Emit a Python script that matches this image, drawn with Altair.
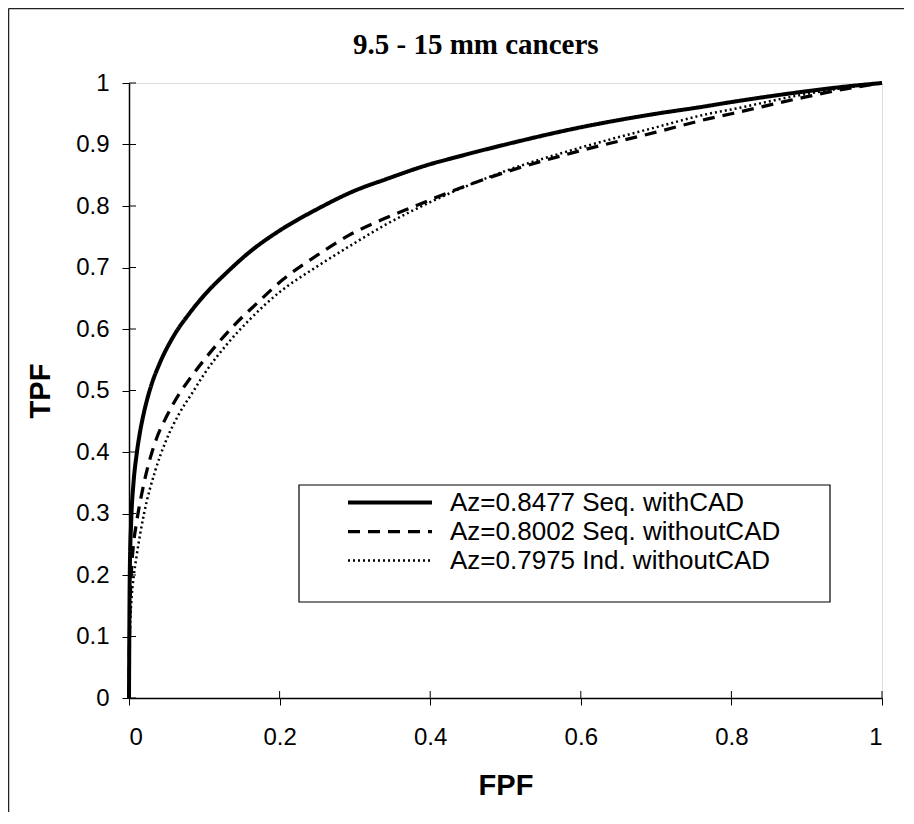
import altair as alt
import pandas as pd

# ---- data ----
title_text = "9.5 - 15 mm cancers"
series_names = ["Az=0.8477 Seq. withCAD", "Az=0.8002 Seq. withoutCAD", "Az=0.7975 Ind. withoutCAD"]

fpf_with = [0, 0.001, 0.003, 0.006, 0.01, 0.015, 0.02, 0.03, 0.04, 0.06, 0.08, 0.1, 0.13, 0.16,
            0.2, 0.25, 0.3, 0.34, 0.4, 0.43, 0.5, 0.6, 0.7, 0.76, 0.8, 0.89, 0.95, 1.0]
tpf_with = [0, 0.2, 0.29, 0.35, 0.395, 0.435, 0.465, 0.51, 0.542, 0.59, 0.625, 0.655, 0.692, 0.725,
            0.76, 0.795, 0.825, 0.843, 0.868, 0.878, 0.9, 0.928, 0.95, 0.961, 0.969, 0.985, 0.994, 1.0]

fpf_seq = [0, 0.001, 0.003, 0.006, 0.01, 0.02, 0.036, 0.05, 0.067, 0.08, 0.1, 0.138, 0.17, 0.204,
           0.25, 0.293, 0.34, 0.38, 0.41, 0.5, 0.6, 0.7, 0.77, 0.8, 0.89, 0.95, 1.0]
tpf_seq = [0, 0.13, 0.2, 0.25, 0.285, 0.35, 0.42, 0.458, 0.495, 0.518, 0.55, 0.604, 0.642, 0.68,
           0.72, 0.753, 0.78, 0.80, 0.815, 0.855, 0.89, 0.92, 0.942, 0.95, 0.975, 0.99, 1.0]

fpf_ind = [0, 0.001, 0.003, 0.006, 0.01, 0.02, 0.035, 0.049, 0.067, 0.085, 0.1, 0.13, 0.16, 0.2,
           0.249, 0.3, 0.337, 0.412, 0.5, 0.6, 0.7, 0.77, 0.8, 0.89, 0.95, 1.0]
tpf_ind = [0, 0.1, 0.155, 0.195, 0.23, 0.3, 0.37, 0.418, 0.463, 0.498, 0.527, 0.575, 0.615, 0.66,
           0.701, 0.74, 0.767, 0.813, 0.857, 0.895, 0.928, 0.95, 0.957, 0.98, 0.992, 1.0]

x_ticks = [0, 0.2, 0.4, 0.6, 0.8, 1.0]
y_ticks = [0, 0.1, 0.2, 0.3, 0.4, 0.5, 0.6, 0.7, 0.8, 0.9, 1.0]

rows = []
for name, xs, ys in [(series_names[0], fpf_with, tpf_with),
                     (series_names[1], fpf_seq, tpf_seq),
                     (series_names[2], fpf_ind, tpf_ind)]:
    for i, (x, y) in enumerate(zip(xs, ys)):
        rows.append({"series": name, "FPF": x, "TPF": y, "i": i})
df = pd.DataFrame(rows)

W, H = 753, 615
SANS = "Liberation Sans"
SERIF = "Liberation Serif"

dash_scale = alt.Scale(domain=series_names, range=[[1, 0], [12, 8], [2, 3]])
width_scale = alt.Scale(domain=series_names, range=[4, 2.5, 1])
xscale = alt.Scale(domain=[0, 1], nice=False, zero=False)
yscale = alt.Scale(domain=[0, 1], nice=False, zero=False)

lines = alt.Chart(df).mark_line(interpolate="monotone", color="black").encode(
    x=alt.X("FPF:Q", scale=xscale,
            axis=alt.Axis(values=x_ticks, format="~g", title="FPF", grid=False,
                          tickSize=7, tickColor="black", tickWidth=1,
                          domainColor="black", domainWidth=1.5,
                          labelFont=SANS, labelFontSize=24, labelColor="black",
                          labelBaseline="alphabetic", labelPadding=39,
                          titleFont=SANS, titleFontSize=29, titleFontWeight="bold",
                          titleColor="black", titleBaseline="alphabetic",
                          titleX=W / 2, titleY=96)),
    y=alt.Y("TPF:Q", scale=yscale,
            axis=alt.Axis(values=y_ticks, format="~g", title="TPF", grid=False,
                          tickSize=7, tickColor="black", tickWidth=1,
                          domainColor="black", domainWidth=1.5,
                          labelFont=SANS, labelFontSize=24, labelColor="black",
                          labelPadding=13,
                          titleFont=SANS, titleFontSize=29, titleFontWeight="bold",
                          titleColor="black", titleAngle=-90, titleAlign="center",
                          titleBaseline="middle", titleX=-89, titleY=H / 2)),
    strokeDash=alt.StrokeDash("series:N", scale=dash_scale, legend=None),
    strokeWidth=alt.StrokeWidth("series:N", scale=width_scale, legend=None),
    order="i:Q",
)

# inner half of the crossing tick marks
xt = pd.DataFrame({"v": x_ticks})
yt = pd.DataFrame({"v": y_ticks})
xtick_in = alt.Chart(xt).mark_rule(color="black", strokeWidth=1).encode(
    x="v:Q", y=alt.value(H - 7), y2=alt.value(H))
ytick_in = alt.Chart(yt).mark_rule(color="black", strokeWidth=1).encode(
    y="v:Q", x=alt.value(0), x2=alt.value(7))

# legend drawn as a boxed key
leg_df = pd.DataFrame({"series": series_names, "row": [0, 1, 2]})
leg_box = alt.Chart(pd.DataFrame({"a": [0]})).mark_rect(
    fill="white", stroke="black", strokeWidth=1.2).encode(
    x=alt.value(170), x2=alt.value(701), y=alt.value(402), y2=alt.value(519))
leg_base = alt.Chart(leg_df).transform_calculate(ly="419.5 + datum.row * 29")
leg_sym = leg_base.mark_rule(color="black").encode(
    y=alt.Y("ly:Q", scale=None), x=alt.value(219), x2=alt.value(303),
    strokeDash=alt.StrokeDash("series:N", scale=dash_scale, legend=None),
    strokeWidth=alt.StrokeWidth("series:N", scale=width_scale, legend=None))
leg_txt = leg_base.mark_text(align="left", baseline="middle", font=SANS, fontSize=26,
                             color="black").encode(
    y=alt.Y("ly:Q", scale=None), x=alt.value(321), text="series:N")

# title
title = alt.Chart(pd.DataFrame({"t": [title_text]})).mark_text(
    align="left", baseline="alphabetic", font=SERIF, fontSize=29, fontWeight="bold",
    color="black").encode(text="t:N", x=alt.value(224), y=alt.value(-29))

# page frame (top and left edges visible)
frame_top = alt.Chart(pd.DataFrame({"a": [0]})).mark_rule(color="#222", strokeWidth=1.5).encode(
    x=alt.value(-120.5), x2=alt.value(800), y=alt.value(-74.5))
frame_left = alt.Chart(pd.DataFrame({"a": [0]})).mark_rule(color="#222", strokeWidth=1.5).encode(
    x=alt.value(-120.5), y=alt.value(-74.5), y2=alt.value(800))

chart = alt.layer(frame_top, frame_left, title, lines, xtick_in, ytick_in,
                  leg_box, leg_sym, leg_txt).properties(
    width=W, height=H,
    padding={"left": 121, "top": 75, "right": 22, "bottom": 114},
    autosize=alt.AutoSizeParams(type="none"),
).configure_view(stroke="black", strokeWidth=1.5).configure(background="white")

chart.save("out.html", embed_options={"renderer": "svg", "actions": False})
